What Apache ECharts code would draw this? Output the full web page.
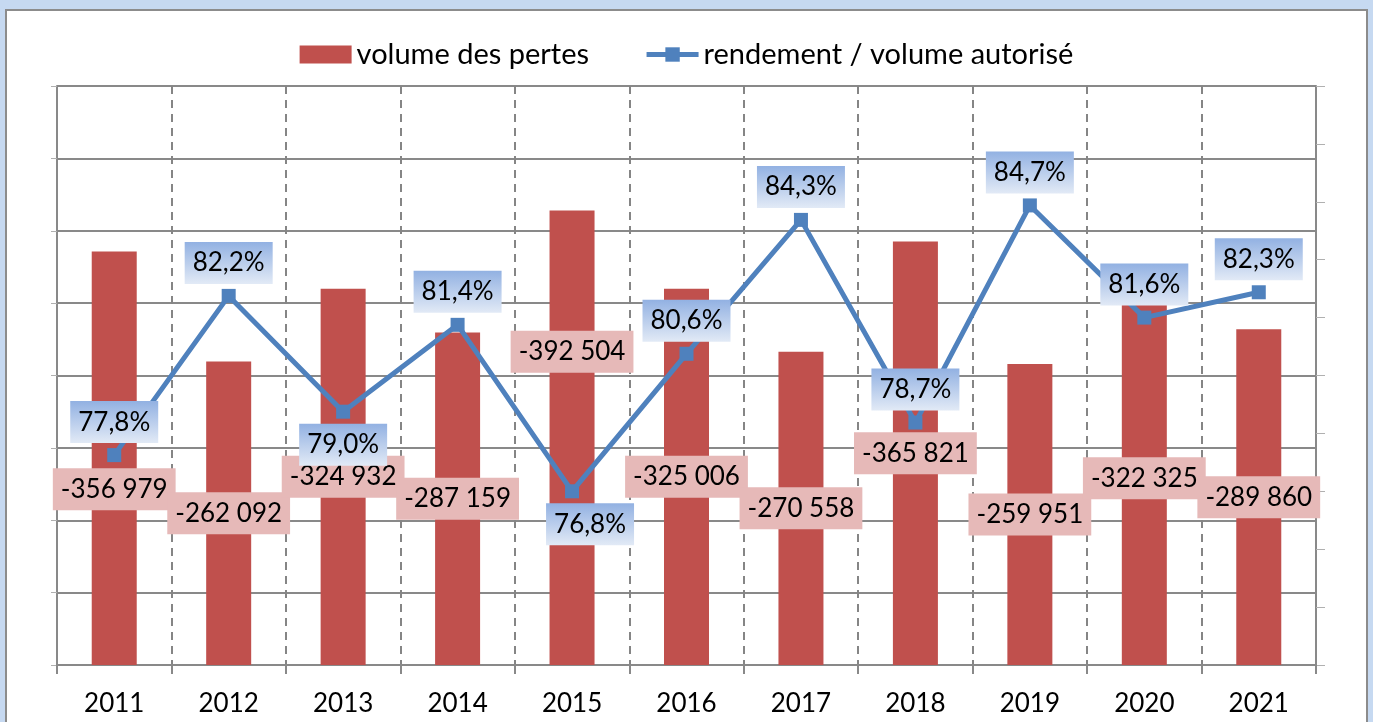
<!DOCTYPE html>
<html>
<head>
<meta charset="utf-8">
<script src="https://cdn.jsdelivr.net/npm/echarts@6/dist/echarts.min.js"></script>
<style>
  html, body { margin: 0; padding: 0; background: #c6d9f1; }
  #chart { width: 1373px; height: 722px; }
</style>
</head>
<body>
<div id="chart"></div>
<script>
// données
const years = ['2011', '2012', '2013', '2014', '2015', '2016', '2017', '2018', '2019', '2020', '2021']
const pertes = [-356979, -262092, -324932, -287159, -392504, -325006, -270558, -365821, -259951, -322325, -289860]
const rendement = [77.8, 82.2, 79.0, 81.4, 76.8, 80.6, 84.3, 78.7, 84.7, 81.6, 82.3]

const FONT = 'Lato'

function fmtPertes(v) {
  const s = Math.abs(v).toString().replace(/\B(?=(\d{3})+(?!\d))/g, ' ')
  return (v < 0 ? '-' : '') + s
}
function fmtPct(v) {
  return v.toFixed(1).replace('.', ',') + '%'
}

// étiquettes déplacées à la main comme dans le graphique d'origine
const barLabelOffset = { 0: [0, 31], 4: [0, -86] }
const lineLabelPos = { 2: ['bottom', [0, 0]], 4: ['bottom', [18, 0]] }

const chart = echarts.init(document.getElementById('chart'))

const lineLabelBg = new echarts.graphic.LinearGradient(0, 0, 0, 1, [
  { offset: 0, color: '#92b1e2' },
  { offset: 1, color: '#e2eaf6' }
])

chart.setOption({
  backgroundColor: '#c6d9f1',
  animation: false,
  graphic: [{
    type: 'rect',
    z: -10,
    shape: { x: 6, y: 10, width: 1361, height: 730 },
    style: { fill: '#ffffff', stroke: '#8c8c8c', lineWidth: 2 }
  }],
  legend: {
    top: 35,
    left: 'center',
    itemWidth: 52,
    itemHeight: 18,
    itemGap: 55,
    textStyle: { fontFamily: FONT, fontSize: 29, color: '#000' },
    data: [
      { name: 'volume des pertes', icon: 'rect' },
      { name: 'rendement / volume autorisé', lineStyle: { width: 5 } }
    ]
  },
  grid: { left: 57, right: 57, top: 86, bottom: 57 },
  xAxis: {
    type: 'category',
    data: years,
    axisLine: { lineStyle: { color: '#898989', width: 2 } },
    axisTick: { show: true, length: 9, lineStyle: { color: '#898989', width: 2 } },
    axisLabel: { fontFamily: FONT, fontSize: 26, color: '#000', margin: 26 },
    splitLine: { show: true, lineStyle: { color: '#858585', width: 2, type: [8, 6] } }
  },
  yAxis: [{
    type: 'value',
    inverse: true,
    min: -500000,
    max: 0,
    interval: 62500,
    axisLine: { show: true, lineStyle: { color: '#898989', width: 2 } },
    axisTick: { show: true, length: 6, lineStyle: { color: '#b0b0b0', width: 1 } },
    axisLabel: { show: false },
    splitLine: { show: true, lineStyle: { color: '#898989', width: 2 } }
  }, {
    type: 'value',
    min: 72,
    max: 88,
    interval: 1.6,
    axisLine: { show: true, lineStyle: { color: '#898989', width: 2 } },
    axisTick: { show: true, length: 9, lineStyle: { color: '#b0b0b0', width: 1 } },
    axisLabel: { show: false },
    splitLine: { show: false }
  }],
  series: [{
    name: 'volume des pertes',
    type: 'bar',
    barWidth: 45,
    itemStyle: { color: '#c0504d' },
    data: pertes.map((v, i) => ({
      value: v,
      label: barLabelOffset[i] ? { offset: barLabelOffset[i] } : undefined
    })),
    label: {
      show: true,
      position: 'inside',
      formatter: p => fmtPertes(p.value),
      fontFamily: FONT,
      fontSize: 26,
      color: '#000',
      backgroundColor: '#e6b9b8',
      padding: [8, 8]
    },
    z: 2
  }, {
    name: 'rendement / volume autorisé',
    type: 'line',
    yAxisIndex: 1,
    symbol: 'rect',
    symbolSize: 14,
    lineStyle: { color: '#4f81bd', width: 5 },
    itemStyle: { color: '#4f81bd' },
    data: rendement.map((v, i) => ({
      value: v,
      label: lineLabelPos[i] ? { position: lineLabelPos[i][0], offset: lineLabelPos[i][1] } : undefined
    })),
    label: {
      show: true,
      position: 'top',
      distance: 5,
      formatter: p => fmtPct(p.value),
      fontFamily: FONT,
      fontSize: 26,
      color: '#000',
      backgroundColor: lineLabelBg,
      padding: [8, 8]
    },
    z: 3
  }]
})
</script>
</body>
</html>
